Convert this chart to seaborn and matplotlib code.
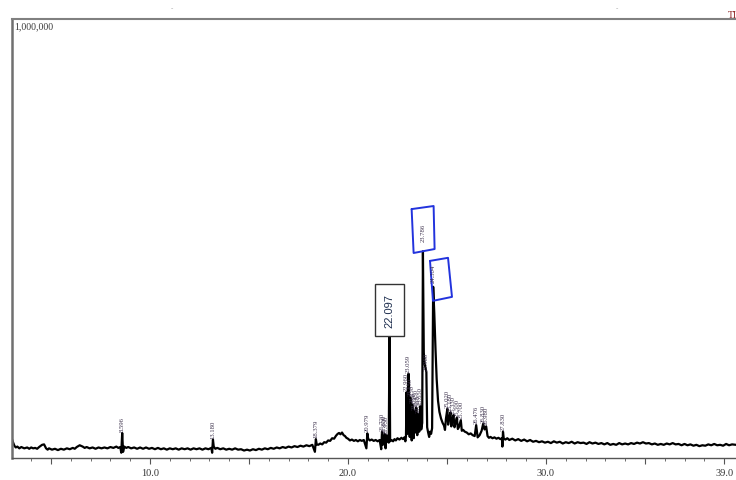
"""
GC-MS 总离子流色谱图 (TIC) 复刻
"""

import matplotlib
matplotlib.use("Agg")
import matplotlib.pyplot as plt
from matplotlib.ticker import FixedLocator, MultipleLocator
import seaborn as sns
import numpy as np
import pandas as pd

# 保留时间 (min)
trace_time = [
    3.03, 3.08, 3.15, 3.22, 3.30, 3.40, 3.50, 3.65, 3.80, 3.90, 4.00, 4.10,
    4.20, 4.30, 4.40, 4.55, 4.65, 4.75, 4.83, 4.90, 5.05, 5.20, 5.35, 5.50,
    5.65, 5.80, 5.95, 6.10, 6.20, 6.30, 6.45, 6.60, 6.70, 6.80, 6.95, 7.10,
    7.25, 7.40, 7.55, 7.70, 7.85, 8.00, 8.15, 8.30, 8.40, 8.50, 8.55, 8.596,
    8.64, 8.70, 8.80, 8.90, 9.05, 9.20, 9.35, 9.50, 9.65, 9.80, 9.95, 10.10,
    10.25, 10.40, 10.55, 10.70, 10.85, 11.00, 11.15, 11.30, 11.45, 11.60, 11.75, 11.90,
    12.05, 12.20, 12.35, 12.50, 12.65, 12.80, 12.95, 13.10, 13.14, 13.18, 13.22, 13.30,
    13.40, 13.55, 13.70, 13.85, 14.00, 14.15, 14.30, 14.45, 14.60, 14.75, 14.90, 15.05,
    15.20, 15.35, 15.50, 15.65, 15.80, 15.95, 16.10, 16.25, 16.40, 16.55, 16.70, 16.85,
    17.00, 17.15, 17.30, 17.45, 17.60, 17.75, 17.90, 18.05, 18.20, 18.33, 18.379, 18.42,
    18.50, 18.60, 18.70, 18.80, 18.90, 19.00, 19.10, 19.20, 19.30, 19.40, 19.48, 19.55,
    19.62, 19.70, 19.78, 19.85, 19.92, 20.00, 20.10, 20.20, 20.30, 20.40, 20.50, 20.60,
    20.70, 20.80, 20.93, 20.979, 21.02, 21.10, 21.20, 21.30, 21.40, 21.50, 21.60, 21.68,
    21.72, 21.76, 21.85, 21.90, 21.95, 22.00, 22.06, 22.097, 22.13, 22.20, 22.28, 22.35,
    22.42, 22.50, 22.60, 22.70, 22.78, 22.85, 22.90, 22.93, 22.96, 22.99, 23.02, 23.059,
    23.09, 23.12, 23.15, 23.19, 23.22, 23.25, 23.29, 23.32, 23.36, 23.40, 23.45, 23.50,
    23.55, 23.60, 23.65, 23.70, 23.75, 23.786, 23.83, 23.87, 23.92, 23.96, 24.00, 24.05,
    24.10, 24.15, 24.20, 24.25, 24.304, 24.36, 24.42, 24.48, 24.55, 24.62, 24.70, 24.78,
    24.85, 24.90, 24.95, 25.02, 25.06, 25.10, 25.18, 25.22, 25.26, 25.33, 25.38, 25.42,
    25.50, 25.55, 25.60, 25.70, 25.75, 25.82, 25.90, 26.00, 26.10, 26.20, 26.30, 26.40,
    26.476, 26.55, 26.65, 26.75, 26.83, 26.90, 26.98, 27.05, 27.12, 27.20, 27.30, 27.40,
    27.50, 27.60, 27.70, 27.78, 27.80, 27.83, 27.87, 27.95, 28.05, 28.15, 28.30, 28.45,
    28.60, 28.75, 28.90, 29.05, 29.20, 29.35, 29.50, 29.65, 29.80, 29.95, 30.10, 30.25,
    30.40, 30.55, 30.70, 30.85, 31.00, 31.15, 31.30, 31.45, 31.60, 31.75, 31.90, 32.05,
    32.20, 32.35, 32.50, 32.65, 32.80, 32.95, 33.10, 33.25, 33.40, 33.55, 33.70, 33.85,
    34.00, 34.15, 34.30, 34.45, 34.60, 34.75, 34.90, 35.05, 35.20, 35.35, 35.50, 35.65,
    35.80, 35.95, 36.10, 36.25, 36.40, 36.55, 36.70, 36.85, 37.00, 37.15, 37.30, 37.45,
    37.60, 37.75, 37.90, 38.05, 38.20, 38.35, 38.50, 38.65, 38.80, 38.95, 39.10, 39.25,
    39.40, 39.60,
]
# 响应强度 (千计数)
trace_kcounts = [
    43, 36, 28, 24, 26, 22, 25, 22, 24, 21, 24, 22,
    23, 21, 25, 30, 31, 22, 19, 22, 19, 21, 18, 21,
    19, 22, 20, 23, 21, 25, 29, 26, 23, 25, 22, 24,
    21, 24, 22, 24, 22, 25, 23, 26, 23, 25, 12, 57,
    14, 26, 23, 25, 22, 24, 21, 24, 21, 24, 21, 23,
    20, 23, 20, 22, 19, 22, 20, 22, 19, 22, 20, 22,
    19, 22, 20, 22, 19, 22, 20, 23, 12, 42, 26, 21,
    23, 20, 22, 19, 21, 19, 22, 19, 20, 17, 19, 17,
    20, 18, 21, 19, 22, 20, 23, 21, 24, 22, 25, 23,
    26, 24, 27, 25, 28, 26, 29, 27, 30, 14, 43, 31,
    30, 33, 31, 36, 35, 40, 39, 45, 44, 51, 55, 57,
    54, 58, 52, 50, 46, 44, 40, 42, 39, 41, 38, 41,
    39, 41, 22, 56, 44, 40, 42, 39, 41, 38, 41, 20,
    60, 30, 55, 22, 52, 40, 35, 278, 38, 41, 38, 43,
    40, 45, 42, 46, 43, 47, 38, 50, 150, 55, 60, 192,
    70, 48, 138, 66, 40, 122, 62, 45, 108, 58, 115, 52,
    100, 60, 118, 65, 80, 471, 240, 215, 205, 196, 70, 58,
    48, 60, 55, 68, 390, 330, 250, 180, 130, 105, 90, 80,
    74, 64, 90, 112, 76, 88, 104, 72, 84, 98, 70, 78,
    92, 66, 70, 86, 62, 64, 60, 58, 54, 56, 52, 50,
    75, 47, 52, 62, 78, 65, 72, 50, 46, 48, 45, 47,
    44, 46, 43, 45, 26, 60, 44, 42, 45, 41, 44, 40,
    43, 39, 42, 38, 41, 37, 39, 36, 38, 35, 37, 34,
    38, 35, 37, 33, 36, 34, 37, 33, 36, 34, 35, 32,
    36, 33, 35, 32, 34, 31, 34, 30, 32, 30, 34, 31,
    33, 31, 34, 32, 35, 33, 36, 33, 34, 31, 33, 30,
    32, 30, 33, 31, 34, 31, 32, 29, 32, 29, 31, 28,
    30, 27, 29, 28, 31, 29, 32, 29, 30, 28, 32, 29,
    31, 30,
]
assert len(trace_time) == len(trace_kcounts)

# 峰标注的保留时间
peak_labels = [
    8.596, 13.180, 18.379, 20.979, 21.720, 21.850, 21.950, 22.960, 23.059,
    23.150, 23.250, 23.360, 23.450, 23.550, 23.650, 23.960,
    25.020, 25.180, 25.330, 25.500, 25.700, 26.476, 26.830, 26.980, 27.830,
]
boxed_peak = 22.097
circled_peaks = [23.786, 24.304]

x_ticks = [5, 10, 15, 20, 25, 30, 35, 39]
x_tick_labels = ["", "10.0", "", "20.0", "", "30.0", "", "39.0"]

df = pd.DataFrame({"time": trace_time, "kcounts": trace_kcounts})

sns.set_theme(style="white")
plt.rcParams["font.family"] = ["Liberation Serif", "DejaVu Serif"]

fig = plt.figure(figsize=(7.36, 4.81), dpi=100)
ax = fig.add_axes([12 / 736, 22 / 481, 724 / 736, 439 / 481])

sns.lineplot(data=df, x="time", y="kcounts", ax=ax, color="black",
             linewidth=1.6, estimator=None, sort=False)

ax.set_xlim(3.03, 39.6)
ax.set_ylim(0, 1000)
ax.set_xlabel("")
ax.set_ylabel("")
ax.set_yticks([])

ax.xaxis.set_major_locator(FixedLocator(x_ticks))
ax.set_xticklabels(x_tick_labels)
ax.xaxis.set_minor_locator(MultipleLocator(1))
ax.tick_params(axis="x", which="major", direction="out", length=4, width=0.8,
               color="#555555", labelsize=7.5, labelcolor="#333333", pad=3,
               bottom=True)
ax.tick_params(axis="x", which="minor", direction="out", length=2, width=0.6,
               color="#555555", bottom=True)

ax.spines["right"].set_visible(False)
ax.spines["left"].set_color("#707070")
ax.spines["left"].set_linewidth(1.8)
ax.spines["top"].set_color("#808080")
ax.spines["top"].set_linewidth(1.5)
ax.spines["bottom"].set_color("#555555")
ax.spines["bottom"].set_linewidth(1.0)

# 小号峰标签
for t in peak_labels:
    h = np.interp(t, trace_time, trace_kcounts)
    ax.annotate(f"{t:.3f}", xy=(t, h), xytext=(0, 2), textcoords="offset pixels",
                rotation=90, ha="center", va="bottom", fontsize=4.8,
                color="#3a2f4a")

# 黑框标注
h = np.interp(boxed_peak, trace_time, trace_kcounts)
ax.annotate(f"{boxed_peak:.3f}", xy=(boxed_peak, h), xytext=(0, 9),
            textcoords="offset pixels", rotation=90, ha="center", va="bottom",
            fontsize=8, color="#1f2f4f", family=["Liberation Sans", "DejaVu Sans"],
            bbox=dict(boxstyle="square,pad=0.85", fc="white", ec="#333333", lw=1.0))

# 手绘蓝框及框内标签
box_offsets = {
    23.786: [(-0.57, 96), (0.54, 103), (0.59, 5), (-0.47, -4), (-0.57, 96)],
    24.304: [(-0.16, 59), (0.75, 66), (0.95, -23), (-0.01, -32), (-0.16, 59)],
}
label_lift = {23.786: 10, 24.304: 5}
for t in circled_peaks:
    h = np.interp(t, trace_time, trace_kcounts)
    xs = [t + dx for dx, dy in box_offsets[t]]
    ys = [h + dy for dx, dy in box_offsets[t]]
    ax.plot(xs, ys, color="#2233dd", linewidth=1.4, solid_joinstyle="round")
    ax.annotate(f"{t:.3f}", xy=(t, h), xytext=(0, label_lift[t]),
                textcoords="offset pixels", rotation=90, ha="center",
                va="bottom", fontsize=4.8, color="#3a2f4a")

ax.text(0.003, 0.995, "1,000,000", transform=ax.transAxes, ha="left", va="top",
        fontsize=7, color="#3a3a3a")
fig.text(728 / 736, 1 - 16 / 481, "TIC", ha="left", va="center", fontsize=7,
         color="#8b1a1a")
fig.text(172 / 736, 1 - 9 / 481, "-", ha="center", va="center", fontsize=5,
         color="#999999")
fig.text(617 / 736, 1 - 9 / 481, "-", ha="center", va="center", fontsize=5,
         color="#999999")

fig.savefig("out.png", dpi=100)
plt.close(fig)
